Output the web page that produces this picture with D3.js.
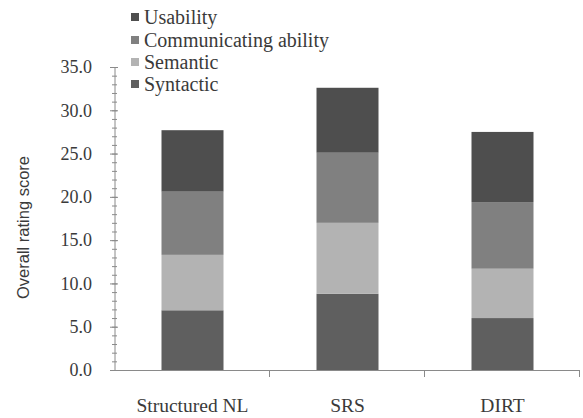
<!DOCTYPE html>
<html>
<head>
<meta charset="utf-8">
<script src="https://cdn.jsdelivr.net/npm/d3@7"></script>
<style>
  @font-face {
    font-family: "ChartSerif";
    src: local("Liberation Serif"), local("LiberationSerif"), local("Liberation Serif Regular"),
         local("Tinos"), local("Times New Roman"), local("DejaVu Serif");
  }
  body { margin: 0; }
</style>
</head>
<body>
<svg id="chart" width="583" height="418"></svg>
<script>
// Rating components per notation
const categories = ["Structured NL", "SRS", "DIRT"];
const seriesNames = ["Syntactic", "Semantic", "Communicating ability", "Usability"];
const syntactic = [6.9, 8.8, 6.0];
const semantic = [6.4, 8.2, 5.7];
const communicating = [7.3, 8.1, 7.7];
const usability = [7.1, 7.5, 8.1];
const yTicks = [0, 5, 10, 15, 20, 25, 30, 35];
const colors = ["#5f5f5f", "#b3b3b3", "#808080", "#4e4e4e"];

const SERIF = "'Liberation Serif', ChartSerif, Tinos, 'Times New Roman', Times";
const SANS = "'Liberation Sans', Arimo, Arial";
const textColor = "#3a3a3a";

const svg = d3.select("#chart");
const margin = { left: 115, right: 3, top: 67, bottom: 48 };
const W = 583, H = 418;

const table = categories.map((c, i) => ({
  cat: c,
  "Syntactic": syntactic[i],
  "Semantic": semantic[i],
  "Communicating ability": communicating[i],
  "Usability": usability[i]
}));
const stacked = d3.stack().keys(seriesNames)(table);

const x = d3.scaleBand().domain(categories)
  .range([margin.left, W - margin.right]).paddingInner(0.6).paddingOuter(0.3);
const y = d3.scaleLinear().domain([0, 35]).range([H - margin.bottom, margin.top]);

// Bars
svg.append("g").selectAll("g").data(stacked).join("g")
  .attr("fill", (d, i) => colors[i])
  .selectAll("rect").data(d => d).join("rect")
  .attr("x", d => x(d.data.cat))
  .attr("width", x.bandwidth())
  .attr("y", d => y(d[1]))
  .attr("height", d => y(d[0]) - y(d[1]));

// Y axis with minor ticks
const axisColor = "#8a8a8a";
const yAxis = svg.append("g").attr("transform", `translate(${margin.left},0)`);
yAxis.append("line").attr("x1", 0).attr("x2", 0)
  .attr("y1", y(0)).attr("y2", y(35)).attr("stroke", axisColor);
yAxis.selectAll(".minor").data(d3.range(0, 36, 1)).join("line")
  .attr("x1", -3).attr("x2", 2)
  .attr("y1", d => y(d) + 0.5).attr("y2", d => y(d) + 0.5)
  .attr("stroke", axisColor);
yAxis.selectAll(".major").data(yTicks).join("line")
  .attr("x1", -5).attr("x2", 3)
  .attr("y1", d => y(d) + 0.5).attr("y2", d => y(d) + 0.5)
  .attr("stroke", axisColor);
yAxis.selectAll("text").data(yTicks).join("text")
  .style("font-family", SERIF).style("font-size", "18px")
  .attr("x", -23).attr("y", d => y(d))
  .attr("dy", "0.35em").attr("text-anchor", "end")
  .attr("fill", textColor)
  .text(d => d.toFixed(1));

// X axis
const xAxis = svg.append("g");
xAxis.append("line").attr("x1", margin.left).attr("x2", W - margin.right)
  .attr("y1", y(0) + 0.5).attr("y2", y(0) + 0.5).attr("stroke", axisColor);
const step = x.step();
const bounds = categories.map(c => x(c) - x.paddingInner() * step / 2).slice(1)
  .concat([W - margin.right]);
xAxis.selectAll(".tick").data(bounds).join("line")
  .attr("x1", d => d - 0.5).attr("x2", d => d - 0.5)
  .attr("y1", y(0)).attr("y2", y(0) + 7).attr("stroke", axisColor);
xAxis.selectAll("text").data(categories).join("text")
  .style("font-family", SERIF).style("font-size", "19.5px")
  .attr("x", d => x(d) + x.bandwidth() / 2).attr("y", 412)
  .attr("text-anchor", "middle")
  .attr("fill", textColor)
  .text(d => d);

// Y axis title
svg.append("text")
  .style("font-family", SANS).style("font-size", "16.5px")
  .attr("transform", `translate(29,${(y(0) + y(35)) / 2 + 9}) rotate(-90)`)
  .attr("text-anchor", "middle")
  .attr("fill", textColor)
  .text("Overall rating score");

// Legend (top entry is the top segment)
const legendOrder = seriesNames.map((n, i) => ({ n, c: colors[i] })).reverse();
const lg = svg.append("g");
const rowY = [17, 40, 62, 84];
legendOrder.forEach((d, i) => {
  lg.append("rect").attr("x", 131).attr("y", rowY[i] - 4).attr("width", 8).attr("height", 8).attr("fill", d.c);
  lg.append("text")
    .style("font-family", SERIF).style("font-size", "20px")
    .attr("x", 144).attr("y", rowY[i]).attr("dy", "0.35em")
    .attr("fill", textColor)
    .text(d.n);
});
</script>
</body>
</html>
